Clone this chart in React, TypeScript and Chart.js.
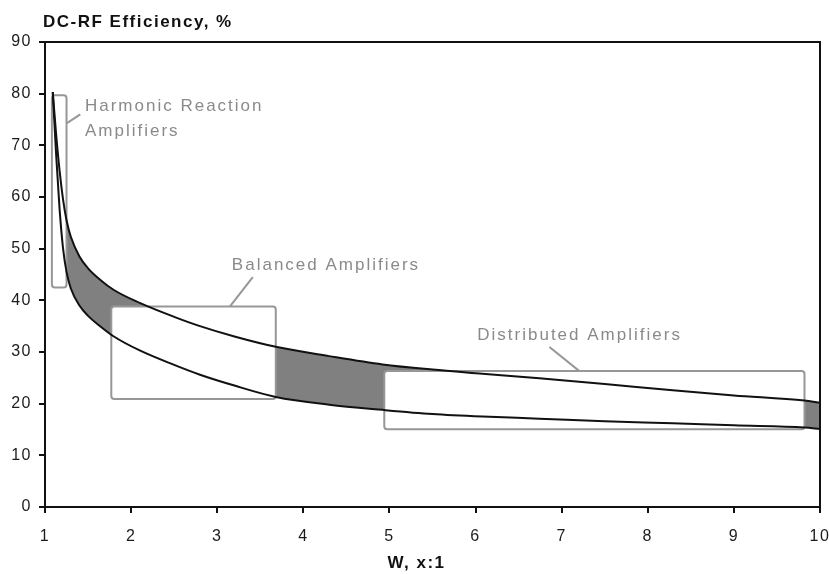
import { useEffect, useRef } from 'react';
import { Chart, registerables } from 'chart.js';

Chart.register(...registerables);

// W (x:1) sample positions shared by both efficiency bounds
const wValues = [1.09, 1.13, 1.17, 1.21, 1.25, 1.3, 1.4, 1.5, 1.64, 1.8, 2.1, 2.5, 2.8, 3.2, 3.68, 4.3, 4.92, 5.5, 6.08, 6.74, 7.5, 8.29, 9.0, 9.82, 10];
// Upper and lower DC-RF efficiency bounds, %
const upperEfficiency = [80.3, 72, 65, 59.5, 55.5, 52.3, 48.5, 46.2, 44, 42, 39.5, 36.8, 35.0, 33.0, 31.0, 29.2, 27.6, 26.6, 25.8, 24.9, 23.8, 22.6, 21.6, 20.6, 20.2];
const lowerEfficiency = [80.3, 68, 57.5, 50, 45.5, 42.3, 39, 37, 35, 33.0, 30.3, 27.5, 25.6, 23.5, 21.3, 19.8, 18.8, 18.0, 17.5, 17.1, 16.6, 16.2, 15.8, 15.4, 15.1];

// Axis ranges and titles
const xRange = [1, 10];
const yRange = [0, 90];
const xStep = 1;
const yStep = 10;
const xAxisTitle = 'W, x:1';
const yAxisTitle = 'DC-RF Efficiency, %';

// Amplifier-class regions: W range, efficiency range, label text
const regionNames = [['Harmonic Reaction', 'Amplifiers'], ['Balanced Amplifiers'], ['Distributed Amplifiers']];
const regionW = [[1.08, 1.25], [1.77, 3.68], [4.94, 9.82]];
const regionEff = [[42.5, 79.7], [20.9, 38.8], [15.05, 26.3]];
// Callout text anchor (W, efficiency) and leader line endpoints
const labelAt = [[1.464, 77.6], [3.17, 46.8], [6.02, 33.2]];
const leaderFrom = [[1.255, 74.3], [3.146, 38.8], [7.206, 26.3]];
const leaderTo = [[1.41, 76.0], [3.413, 44.5], [6.858, 30.95]];

const FONT = '"Liberation Sans", Arial, Helvetica, sans-serif';
const INK = '#111111';
const TICK_INK = '#1c1c1c';
const BAND = '#808080';
const CALLOUT = '#979797';
const CALLOUT_TEXT = '#8a8a8a';

const calloutPlugin = {
  id: 'callouts',
  beforeDraw(chart: any) {
    chart.ctx.letterSpacing = '1.5px';
  },
  beforeDatasetsDraw(chart: any) {
    const { ctx, scales } = chart;
    const xs = scales.x;
    const ys = scales.y;
    ctx.save();
    ctx.lineWidth = 2;
    ctx.strokeStyle = CALLOUT;
    ctx.lineJoin = 'round';
    regionW.forEach((wr, i) => {
      const l = xs.getPixelForValue(wr[0]);
      const r = xs.getPixelForValue(wr[1]);
      const t = ys.getPixelForValue(regionEff[i][1]);
      const b = ys.getPixelForValue(regionEff[i][0]);
      ctx.beginPath();
      ctx.roundRect(l, t, r - l, b - t, 3);
      ctx.fillStyle = '#ffffff';
      ctx.fill();
      ctx.stroke();
      ctx.beginPath();
      ctx.moveTo(xs.getPixelForValue(leaderFrom[i][0]), ys.getPixelForValue(leaderFrom[i][1]));
      ctx.lineTo(xs.getPixelForValue(leaderTo[i][0]), ys.getPixelForValue(leaderTo[i][1]));
      ctx.stroke();
    });
    ctx.fillStyle = CALLOUT_TEXT;
    ctx.font = `17px ${FONT}`;
    ctx.letterSpacing = '2px';
    ctx.textAlign = 'left';
    ctx.textBaseline = 'middle';
    regionNames.forEach((lines, i) => {
      const px = xs.getPixelForValue(labelAt[i][0]);
      const py = ys.getPixelForValue(labelAt[i][1]);
      lines.forEach((s, k) => ctx.fillText(s, px, py + k * 25));
    });
    ctx.restore();
  },
  afterDraw(chart: any) {
    const { ctx, chartArea } = chart;
    ctx.save();
    // plot frame: top and right edges
    ctx.strokeStyle = INK;
    ctx.lineWidth = 2;
    ctx.beginPath();
    ctx.moveTo(chartArea.left, chartArea.top);
    ctx.lineTo(chartArea.right, chartArea.top);
    ctx.lineTo(chartArea.right, chartArea.bottom);
    ctx.stroke();
    // axis titles
    ctx.fillStyle = INK;
    ctx.font = `bold 17px ${FONT}`;
    ctx.letterSpacing = '1.5px';
    ctx.textBaseline = 'middle';
    ctx.textAlign = 'left';
    ctx.fillText(yAxisTitle, chartArea.left - 2, chartArea.top - 20);
    ctx.textAlign = 'center';
    ctx.fillText(xAxisTitle, (chartArea.left + chartArea.right) / 2 - 16, chartArea.bottom + 56);
    ctx.restore();
    ctx.letterSpacing = '0px';
  },
};

export default function App() {
  const canvasRef = useRef<HTMLCanvasElement | null>(null);

  useEffect(() => {
    const canvas = canvasRef.current;
    if (!canvas) return;
    const upper = wValues.map((w, i) => ({ x: w, y: upperEfficiency[i] }));
    const lower = wValues.map((w, i) => ({ x: w, y: lowerEfficiency[i] }));
    const axisGrid = {
      display: true,
      drawOnChartArea: false,
      drawTicks: true,
      tickLength: 6,
      color: INK,
      lineWidth: 2,
    };
    const tickFont = { family: FONT, size: 16 };
    const chart = new Chart(canvas, {
      type: 'line',
      data: {
        datasets: [
          {
            label: 'Upper bound',
            data: upper,
            borderColor: INK,
            borderWidth: 2,
            pointRadius: 0,
            cubicInterpolationMode: 'monotone',
            fill: '+1',
            backgroundColor: BAND,
          },
          {
            label: 'Lower bound',
            data: lower,
            borderColor: INK,
            borderWidth: 2,
            pointRadius: 0,
            cubicInterpolationMode: 'monotone',
            fill: false,
          },
        ],
      },
      options: {
        responsive: true,
        maintainAspectRatio: false,
        animation: false,
        events: [],
        layout: { padding: { top: 42, right: 9, left: 0, bottom: 0 } },
        plugins: {
          legend: { display: false },
          tooltip: { enabled: false },
          title: { display: false },
          filler: { drawTime: 'beforeDatasetsDraw' },
        },
        scales: {
          x: {
            type: 'linear',
            min: xRange[0],
            max: xRange[1],
            ticks: {
              stepSize: xStep,
              color: TICK_INK,
              font: tickFont,
              padding: 14,
              maxRotation: 0,
              autoSkip: false,
            },
            grid: axisGrid,
            border: { display: true, color: INK, width: 2 },
            afterFit(scale: any) {
              scale.height = 67;
              scale.paddingLeft = 0;
              scale.paddingRight = 0;
            },
          },
          y: {
            type: 'linear',
            min: yRange[0],
            max: yRange[1],
            ticks: {
              stepSize: yStep,
              color: TICK_INK,
              font: tickFont,
              padding: 7,
            },
            grid: axisGrid,
            border: { display: true, color: INK, width: 2 },
            afterFit(scale: any) {
              scale.width = 45;
              scale.paddingTop = 0;
              scale.paddingBottom = 0;
            },
          },
        },
      },
      plugins: [calloutPlugin],
    } as any);
    return () => chart.destroy();
  }, []);

  return (
    <div style={{ position: 'fixed', left: 0, top: 0, width: 829, height: 574, background: '#ffffff' }}>
      <canvas ref={canvasRef} />
    </div>
  );
}
